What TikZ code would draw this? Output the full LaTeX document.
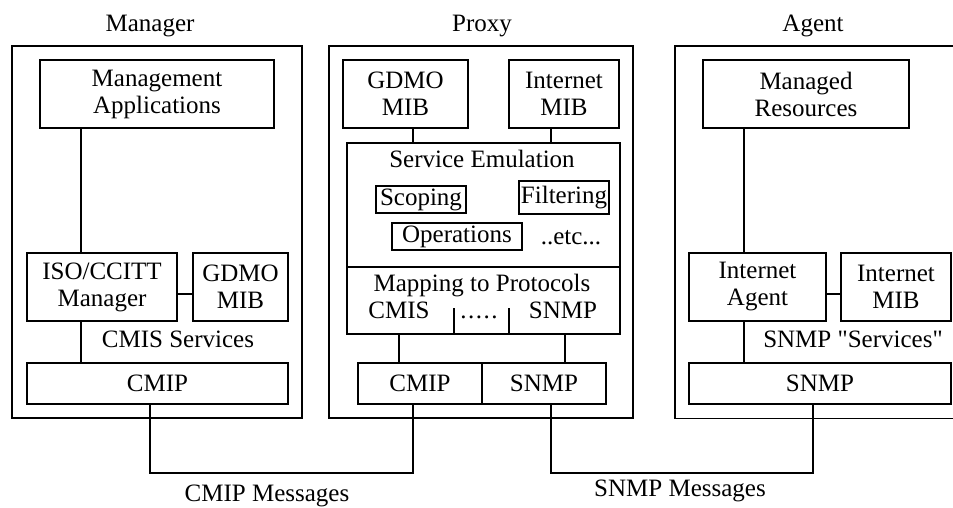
\documentclass[tikz,border=0pt]{standalone}
\usepackage{fontspec}
\setmainfont{Liberation Serif}[Ligatures=TeXOff]
\newcommand\dfs{\fontsize{25}{27}\selectfont}
\tikzset{
  box/.style={draw, line width=1.8pt, inner sep=0pt, align=center, font=\dfs},
  lbl/.style={inner sep=0pt, align=center, font=\dfs, text height=17pt, text depth=6pt},
  conn/.style={line width=1.8pt},
}
\begin{document}
\begin{tikzpicture}[x=1pt,y=-1pt]
\useasboundingbox (0,0) rectangle (953,508);

% ---------------- Manager ----------------
\node[lbl] (mgrlbl) at (150,26) {Manager};
\node[box, minimum width=290pt, minimum height=372pt] (mgrframe) at (157,232) {};
\node[box, minimum width=234pt, minimum height=68pt] (apps) at (157,94) {Management\\Applications};
\node[box, minimum width=150pt, minimum height=68pt] (iso) at (102,287) {ISO/CCITT\\Manager};
\node[box, minimum width=95pt, minimum height=68pt] (mgdmo) at (240.5,287) {GDMO\\MIB};
\node[lbl] (cmisserv) at (178,342) {CMIS Services};
\node[box, minimum width=261pt, minimum height=41pt] (mcmip) at (157.5,383.5) {CMIP};

\coordinate (xa) at (81,0);
\draw[conn] (apps.south -| xa) -- (iso.north -| xa);
\draw[conn] (iso.south -| xa) -- (mcmip.north -| xa);
\draw[conn] ([yshift=-7pt]iso.east) -- ([yshift=-7pt]mgdmo.west);

% ---------------- Proxy ----------------
\node[lbl] (prxlbl) at (482,26) {Proxy};
\node[box, minimum width=304pt, minimum height=372pt] (pframe) at (481,232) {};
\node[box, minimum width=125pt, minimum height=68pt] (pgdmo) at (405.5,94) {GDMO\\MIB};
\node[box, minimum width=110pt, minimum height=68pt] (pimib) at (564,94) {Internet\\MIB};
\node[box, minimum width=273pt, minimum height=124pt] (semu) at (483.5,205) {};
\node[box, minimum width=273pt, minimum height=67pt] (pmap) at (483.5,300.5) {};
\node[lbl] (semutxt) at (482,162) {Service Emulation};
\node[box, minimum width=90pt, minimum height=27pt] (scoping) at (421,199.5) {Scoping};
\node[box, minimum width=90pt, minimum height=33pt] (filtering) at (564,197.5) {Filtering};
\node[box, minimum width=130pt, minimum height=27pt] (operations) at (457,236.5) {Operations};
\node[lbl] (etc) at (571,239) {..etc...};
\node[lbl] (maptxt) at (482,286) {Mapping to Protocols};
\node[lbl] (cmistxt) at (399,313) {CMIS};
\node[lbl] (dots) at (479,313) {.\hspace{1.5pt}.\hspace{1.5pt}.\hspace{1.5pt}.\hspace{1.5pt}.};
\node[lbl] (snmptxt) at (563,313) {SNMP};
\node[box, minimum width=124pt, minimum height=41pt] (pcmip) at (420,383.5) {CMIP};
\node[box, minimum width=124pt, minimum height=41pt] (psnmp) at (544,383.5) {SNMP};

\coordinate (xp1) at (413,0);
\coordinate (xp2) at (551,0);
\coordinate (xp3) at (399,0);
\coordinate (xp4) at (565,0);
\draw[conn] (pgdmo.south -| xp1) -- (semu.north -| xp1);
\draw[conn] (pimib.south -| xp2) -- (semu.north -| xp2);
\draw[conn] (pmap.south -| xp3) -- (pcmip.north -| xp3);
\draw[conn] (pmap.south -| xp4) -- (psnmp.north -| xp4);
\coordinate (t1) at (454,308);
\coordinate (t2) at (509,308);
\draw[conn] (t1) -- (t1 |- pmap.south);
\draw[conn] (t2) -- (t2 |- pmap.south);

% ---------------- Agent ----------------
\node[lbl] (agtlbl) at (813,26) {Agent};
\node[inner sep=0pt, minimum width=278pt, minimum height=372pt, anchor=north west] (aframe) at (675,46) {};
\draw[conn] (aframe.north east) -- (aframe.north west) -- (aframe.south west) -- (aframe.south east);
\node[box, minimum width=206pt, minimum height=68pt] (ares) at (806,94) {Managed\\Resources};
\node[box, minimum width=137pt, minimum height=68pt] (iagent) at (757.5,287) {Internet\\Agent};
\node[box, minimum width=110pt, minimum height=68pt] (aimib) at (896,287) {Internet\\MIB};
\node[lbl] (snmpserv) at (853,342) {SNMP "Services"};
\node[box, minimum width=262pt, minimum height=41pt] (asnmp) at (820,383.5) {SNMP};

\coordinate (xg) at (744,0);
\draw[conn] (ares.south -| xg) -- (iagent.north -| xg);
\draw[conn] (iagent.south -| xg) -- (asnmp.north -| xg);
\draw[conn] ([yshift=-7pt]iagent.east) -- ([yshift=-7pt]aimib.west);

% ---------------- Message links ----------------
\coordinate (ybot) at (0,473);
\coordinate (xb1) at (150,0);
\coordinate (xb4) at (813,0);
\draw[conn] (mcmip.south -| xb1) -- (xb1 |- ybot) -- (xp1 |- ybot) -- (pcmip.south -| xp1);
\draw[conn] (psnmp.south -| xp2) -- (xp2 |- ybot) -- (xb4 |- ybot) -- (asnmp.south -| xb4);
\node[lbl] (cmipmsg) at (267,496) {CMIP Messages};
\node[lbl] (snmpmsg) at (680,491) {SNMP Messages};
\end{tikzpicture}
\end{document}
